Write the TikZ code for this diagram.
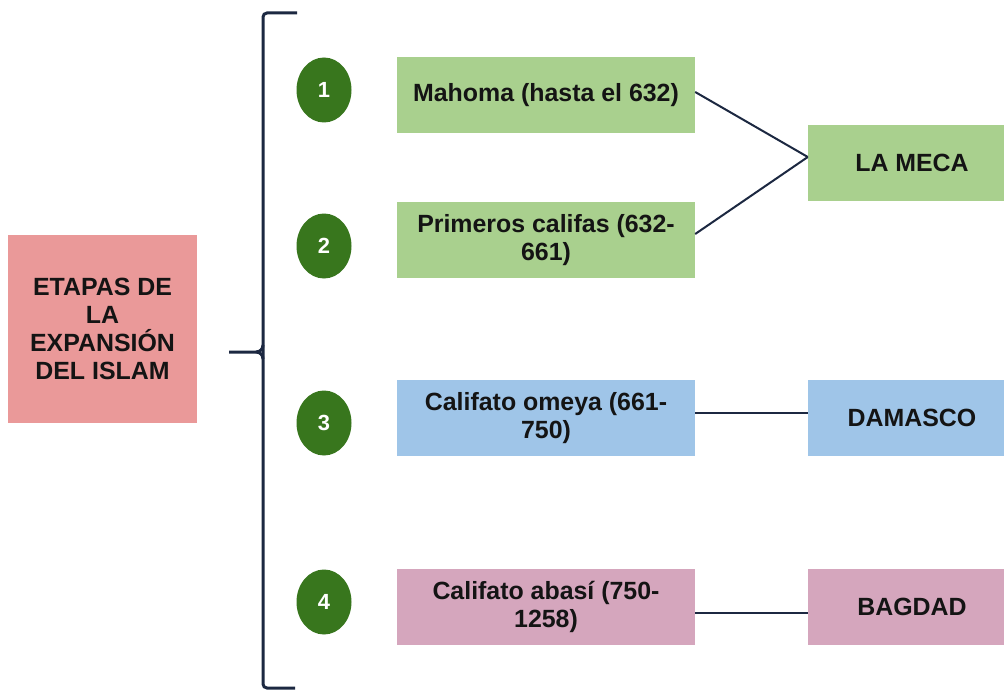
\documentclass[tikz,border=0pt]{standalone}
\usepackage{fontspec}
\setmainfont{Liberation Sans}
\usetikzlibrary{shapes.geometric}
\definecolor{boxgreen}{HTML}{A9D08E}
\definecolor{boxblue}{HTML}{9FC5E8}
\definecolor{boxpink}{HTML}{D5A6BD}
\definecolor{boxred}{HTML}{EA9999}
\definecolor{circgreen}{HTML}{38761D}
\definecolor{navy}{HTML}{1C2841}
\definecolor{txt}{HTML}{141414}
\begin{document}
\begin{tikzpicture}[x=1bp,y=-1bp,
  box/.style={rectangle, inner sep=0pt, minimum width=298bp, minimum height=76bp,
    align=center, font=\fontsize{25}{27.5}\selectfont\bfseries, text=txt},
  cityb/.style={rectangle, inner sep=0pt, minimum width=208bp, minimum height=76bp,
    align=center, font=\fontsize{25}{27.5}\selectfont\bfseries, text=txt},
  numc/.style={ellipse, fill=circgreen, inner sep=0pt, minimum width=55bp, minimum height=65bp,
    text=white, font=\fontsize{22}{22}\selectfont\bfseries},
  link/.style={draw=navy, line width=2bp},
  brace/.style={draw=navy, line width=3bp}]
\useasboundingbox (0,0) rectangle (1004,691);
\clip (0,0) rectangle (1004,691);
\fill[white] (0,0) rectangle (1004,691);

% main box
\node[rectangle, fill=boxred, inner sep=0pt, minimum width=189bp, minimum height=188bp,
  align=center, font=\fontsize{25}{28}\selectfont\bfseries, text=txt]
  (main) at (102.5,329) {ETAPAS DE\\LA\\EXPANSIÓN\\DEL ISLAM};

% brace
\draw[brace, rounded corners=4bp] (297,13) -- (263,13) -- (263,688) -- (295,688);
\draw[brace] (229,352) -- (256,352) .. controls (260,352) and (263,349) .. (263,345);
\draw[brace] (256,352) .. controls (260,352) and (263,355) .. (263,359);

% number circles
\node[numc] (n1) at (324,90) {1};
\node[numc] (n2) at (324,246) {2};
\node[numc] (n3) at (324,423) {3};
\node[numc] (n4) at (324,602) {4};

% stage boxes
\node[box, fill=boxgreen] (m1) at (546,95) {Mahoma (hasta el 632)};
\node[box, fill=boxgreen] (m2) at (546,240) {Primeros califas (632-\\661)};
\node[box, fill=boxblue] (m3) at (546,418) {Califato omeya (661-\\750)};
\node[box, fill=boxpink] (m4) at (546,607) {Califato abasí (750-\\1258)};

% city boxes
\node[cityb, fill=boxgreen] (c1) at (912,163) {LA MECA};
\node[cityb, fill=boxblue] (c3) at (912,418) {DAMASCO};
\node[cityb, fill=boxpink] (c4) at (912,607) {BAGDAD};

% connectors
\draw[link] ([yshift=3bp]m1.east) -- ([yshift=6bp]c1.west);
\draw[link] ([yshift=6bp]m2.east) -- ([yshift=6bp]c1.west);
\draw[link] ([yshift=5bp]m3.east) -- ([yshift=5bp]c3.west);
\draw[link] ([yshift=-6bp]m4.east) -- ([yshift=-6bp]c4.west);
\end{tikzpicture}
\end{document}
